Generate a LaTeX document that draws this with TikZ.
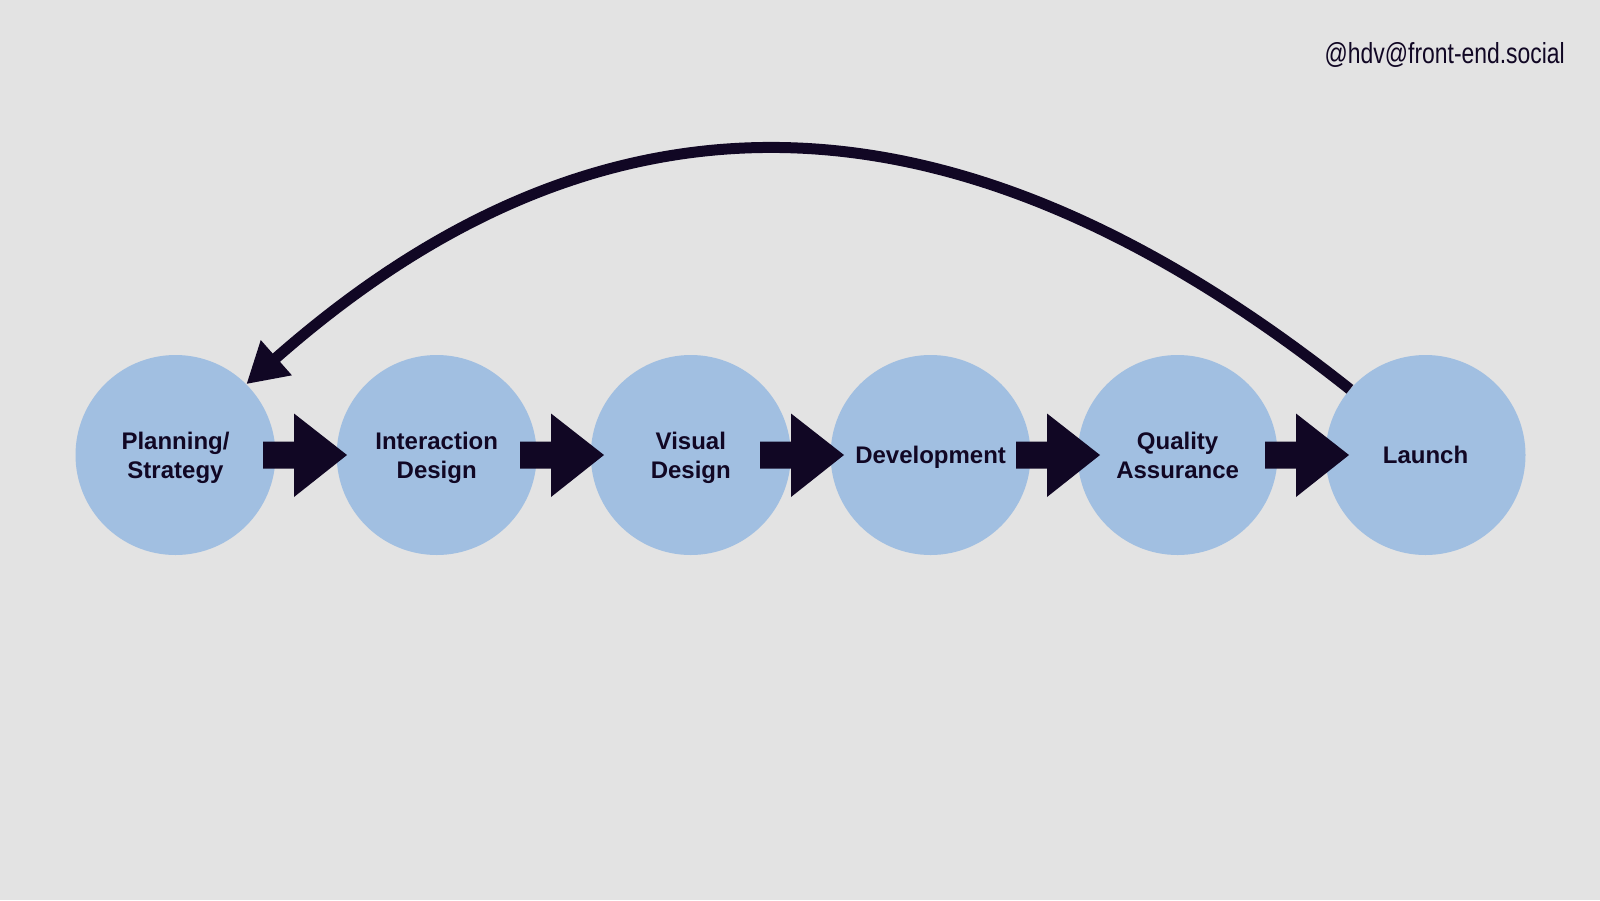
\documentclass[tikz,border=0pt]{standalone}
\usepackage{fontspec}
\setmainfont{Liberation Sans}
\newfontfamily\tagfont[FakeStretch=0.79]{Liberation Sans}
\usetikzlibrary{arrows.meta,calc}
\definecolor{bgcol}{HTML}{E3E3E3}
\definecolor{circcol}{HTML}{A1BFE1}
\definecolor{darkcol}{HTML}{110724}
\tikzset{
  stage/.style={circle,fill=circcol,minimum size=200pt,inner sep=0pt,
    text=darkcol,font=\bfseries\fontsize{24}{29.5}\selectfont},
  blockarrow/.style={fill=darkcol,draw=none},
  loopback/.style={draw=darkcol,line width=11pt,
    -{Triangle[length=40pt,width=44pt]}}
}
\newcommand{\stagetext}[1]{\raisebox{-3pt}[\height][\depth]{\begin{tabular}{@{}c@{}}#1\end{tabular}}}
\begin{document}
\begin{tikzpicture}[x=1pt,y=-1pt]
\fill[bgcol] (0,0) rectangle (1600,900);
\useasboundingbox (0,0) rectangle (1600,900);
\node[stage] (plan) at (175.5,455) {\stagetext{Planning/\\Strategy}};
\node[stage] (inter) at (436.7,455) {\stagetext{Interaction\\Design}};
\node[stage] (vis) at (690.8,455) {\stagetext{Visual\\Design}};
\node[stage] (dev) at (930.6,455) {\stagetext{Development}};
\node[stage] (qa) at (1177.6,455) {\stagetext{Quality\\Assurance}};
\node[stage] (launch) at (1425.5,455) {\stagetext{Launch}};
\coordinate (a1) at ($(plan.center)+(87.5,0)$);
\coordinate (a2) at ($(inter.center)+(83.3,0)$);
\coordinate (a3) at ($(vis.center)+(69.2,0)$);
\coordinate (a4) at ($(dev.center)+(85.4,0)$);
\coordinate (a5) at ($(qa.center)+(87.4,0)$);
\fill[blockarrow] ($(a1)+(0,-13.5)$) -- ++(31,0) -- ++(0,-28) -- ($(a1)+(84,0)$) -- ($(a1)+(31,42)$) -- ++(0,-28.5) -- ++(-31,0) -- cycle;
\fill[blockarrow] ($(a2)+(0,-13.5)$) -- ++(31,0) -- ++(0,-28) -- ($(a2)+(84,0)$) -- ($(a2)+(31,42)$) -- ++(0,-28.5) -- ++(-31,0) -- cycle;
\fill[blockarrow] ($(a3)+(0,-13.5)$) -- ++(31,0) -- ++(0,-28) -- ($(a3)+(84,0)$) -- ($(a3)+(31,42)$) -- ++(0,-28.5) -- ++(-31,0) -- cycle;
\fill[blockarrow] ($(a4)+(0,-13.5)$) -- ++(31,0) -- ++(0,-28) -- ($(a4)+(84,0)$) -- ($(a4)+(31,42)$) -- ++(0,-28.5) -- ++(-31,0) -- cycle;
\fill[blockarrow] ($(a5)+(0,-13.5)$) -- ++(31,0) -- ++(0,-28) -- ($(a5)+(84,0)$) -- ($(a5)+(31,42)$) -- ++(0,-28.5) -- ++(-31,0) -- cycle;
\draw[loopback] (launch.139) .. controls (950,72) and (600,72) .. (plan.45);
\node[anchor=base east,inner sep=0pt,text=darkcol,font=\tagfont\fontsize{29}{34}\selectfont] (tag) at (1565,63) {@hdv@front-end.social};
\end{tikzpicture}
\end{document}
